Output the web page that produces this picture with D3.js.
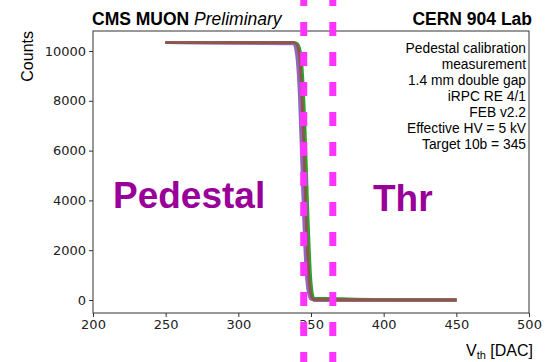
<!DOCTYPE html>
<html>
<head>
<meta charset="utf-8">
<script src="https://cdn.jsdelivr.net/npm/d3@7"></script>
<style>
  body { margin: 0; background: #fff; }
  svg { display: block; }
</style>
</head>
<body>
<div id="chart"></div>
<script>
// DAC grid shared by all scans
const dac = [250, 338, 340, 342, 344, 346, 348, 350, 352, 450];

// counts per scan
const scan1  = [10330, 10330, 10260, 9700, 7400, 3900, 1100, 150, 5, 0];
const scan2  = [10330, 10330, 10290, 9850, 8000, 4600, 1500, 230, 10, 0];
const scan3  = [10330, 10330, 10320, 10150, 9300, 6900, 3400, 800, 80, 0];
const scan4  = [10330, 10330, 10250, 9650, 7300, 3800, 1100, 140, 5, 0];
const scan5  = [10330, 10280, 9850, 8100, 4700, 1700, 330, 25, 0, 0];
const scan6  = [10330, 10330, 10270, 9750, 7700, 4200, 1300, 180, 8, 0];
const scan7  = [10330, 10330, 10230, 9550, 7000, 3500, 950, 120, 4, 0];
const scan8  = [10330, 10320, 10150, 9200, 6400, 2900, 700, 80, 2, 0];
const scan9  = [10330, 10330, 10300, 9900, 8300, 5000, 1800, 300, 15, 0];
const scan10 = [10330, 10330, 10290, 9880, 8200, 4900, 1700, 270, 12, 0];
const scan11 = [10330, 10330, 10240, 9600, 7100, 3600, 1000, 130, 4, 0];
const scan12 = [10330, 10330, 10280, 9800, 7800, 4400, 1400, 200, 8, 0];
const scan13 = [10330, 10330, 10300, 10000, 8600, 5500, 2200, 400, 30, 0];
const scan14 = [10330, 10330, 10260, 9700, 7500, 4000, 1200, 160, 6, 0];
const scan15 = [10330, 10310, 10050, 8700, 5400, 2100, 450, 40, 1, 0];
const scan16 = [10330, 10330, 10280, 9800, 7800, 4400, 1400, 200, 8, 0];
const scans = [scan1, scan2, scan3, scan4, scan5, scan6, scan7, scan8,
               scan9, scan10, scan11, scan12, scan13, scan14, scan15, scan16];

const xTicks = [200, 250, 300, 350, 400, 450, 500];
const yTicks = [0, 2000, 4000, 6000, 8000, 10000];
const thresholds = [345, 365];
const infoLines = ["Pedestal calibration", "measurement", "1.4 mm double gap",
                   "iRPC RE 4/1", "FEB v2.2", "Effective HV = 5 kV", "Target 10b = 345"];

const width = 547, height = 362;
const margin = {left: 93, right: 18, top: 31, bottom: 49};
const helv = "'Liberation Sans', Arial, Helvetica, sans-serif";
const dejavu = "'DejaVu Sans', sans-serif";

const svg = d3.select("#chart").append("svg")
    .attr("width", width)
    .attr("height", height);

const x = d3.scaleLinear().domain([200, 500]).range([margin.left, width - margin.right]);
const y = d3.scaleLinear().domain([-522, 10803]).range([height - margin.bottom, margin.top]);

// frame
svg.append("rect")
    .attr("x", margin.left).attr("y", margin.top)
    .attr("width", x.range()[1] - x.range()[0])
    .attr("height", y.range()[0] - y.range()[1])
    .attr("fill", "none").attr("stroke", "#333").attr("stroke-width", 1);

// axes
const xAxis = svg.append("g")
    .attr("transform", `translate(0,${y.range()[0]})`)
    .call(d3.axisBottom(x).tickValues(xTicks).tickSize(4).tickPadding(3));
const yAxis = svg.append("g")
    .attr("transform", `translate(${margin.left},0)`)
    .call(d3.axisLeft(y).tickValues(yTicks).tickSize(4).tickPadding(3).tickFormat(d3.format("d")));
[xAxis, yAxis].forEach(g => {
    g.select(".domain").remove();
    g.selectAll("line").attr("stroke", "#333");
    g.selectAll("text").attr("font-family", dejavu).attr("font-size", 13).attr("fill", "#222");
});

// curves
const color = d3.scaleOrdinal().domain(d3.range(10))
    .range(["#1f77b4", "#ff7f0e", "#2ca02c", "#d62728", "#9467bd",
            "#8c564b", "#e377c2", "#7f7f7f", "#bcbd22", "#17becf"]);
const line = d3.line()
    .x(d => x(d[0]))
    .y(d => y(d[1]))
    .curve(d3.curveMonotoneX);

svg.append("g")
    .selectAll("path")
    .data(scans)
    .join("path")
    .attr("fill", "none")
    .attr("stroke", (d, i) => color(i % 10))
    .attr("stroke-width", 2.6)
    .attr("d", d => line(d.map((c, j) => [dac[j], c])));

// labels
svg.append("text")
    .attr("x", 113).attr("y", 208)
    .attr("font-family", helv).attr("font-weight", "bold").attr("font-size", 37)
    .attr("fill", "#990099")
    .text("Pedestal");
svg.append("text")
    .attr("x", 373).attr("y", 211)
    .attr("font-family", helv).attr("font-weight", "bold").attr("font-size", 37)
    .attr("fill", "#990099")
    .text("Thr");

const title = svg.append("text")
    .attr("x", margin.left - 1).attr("y", 25)
    .attr("font-family", helv).attr("font-size", 17.5).attr("fill", "#000");
title.append("tspan").attr("font-weight", "bold").text("CMS MUON ");
title.append("tspan").attr("font-style", "italic").text("Preliminary");

svg.append("text")
    .attr("x", 532).attr("y", 25)
    .attr("text-anchor", "end")
    .attr("font-family", helv).attr("font-weight", "bold").attr("font-size", 17.5)
    .text("CERN 904 Lab");

svg.append("g")
    .selectAll("text")
    .data(infoLines)
    .join("text")
    .attr("x", 526)
    .attr("y", (d, i) => 53 + i * 16)
    .attr("text-anchor", "end")
    .attr("font-family", helv).attr("font-size", 13.8)
    .text(d => d);

svg.append("text")
    .attr("transform", "translate(33,31) rotate(-90)")
    .attr("text-anchor", "end")
    .attr("font-family", helv).attr("font-size", 16)
    .text("Counts");

const xl = svg.append("text")
    .attr("x", 533).attr("y", 356)
    .attr("text-anchor", "end")
    .attr("font-family", helv).attr("font-size", 16);
xl.append("tspan").text("V");
xl.append("tspan").attr("font-size", 11).attr("dy", 3).text("th");
xl.append("tspan").attr("dy", -3).text(" [DAC]");

// threshold markers, drawn over everything
svg.append("g")
    .selectAll("line")
    .data(thresholds)
    .join("line")
    .attr("x1", d => x(d)).attr("x2", d => x(d))
    .attr("y1", 0).attr("y2", height)
    .attr("stroke", "#ff33ff")
    .attr("stroke-width", 7)
    .attr("stroke-dasharray", "14,16")
    .attr("stroke-dashoffset", 8);
</script>
</body>
</html>
